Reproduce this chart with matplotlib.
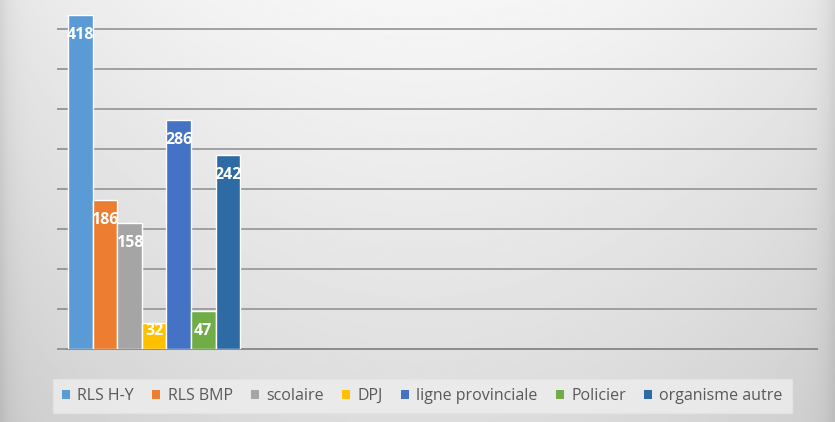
import numpy as np
import matplotlib
matplotlib.use("Agg")
import matplotlib.pyplot as plt
from matplotlib.patches import Patch

categories = ["RLS H-Y", "RLS BMP", "scolaire", "DPJ", "ligne provinciale", "Policier", "organisme autre"]
values = [418, 186, 158, 32, 286, 47, 242]
colors = ["#5B9BD5", "#ED7D31", "#A5A5A5", "#FFC000", "#4472C4", "#70AD47", "#2E6AA3"]
yticks = [0, 50, 100, 150, 200, 250, 300, 350, 400]

W, H = 835, 422
fig = plt.figure(figsize=(W / 100, H / 100), dpi=100)

# background gradient
bg = fig.add_axes([0, 0, 1, 1])
xx, yy = np.meshgrid(np.linspace(0, 1, 400), np.linspace(0, 1, 200))
val = 0.965 - 0.10 * yy - 0.06 * (np.abs(xx - 0.5) * 2) ** 2
val -= 0.07 * np.exp(-xx / 0.012) + 0.07 * np.exp(-(1 - xx) / 0.012)
bg.imshow(val, cmap="gray", vmin=0, vmax=1, aspect="auto", extent=[0, 1, 1, 0], interpolation="bilinear")
bg.set_axis_off()

left, right, base = 67, 817, 349
px_per_unit = 0.80
top_val = base / px_per_unit
ax = fig.add_axes([left / W, (H - base) / H, (right - left) / W, base / H])
ax.set_facecolor("none")

bw = 24.6
x = np.arange(len(values))
ax.bar(x, values, width=1.0, color=colors, edgecolor="white", linewidth=1.0, zorder=3)
xl = -0.5 - 1 / bw
ax.set_xlim(xl, xl + (right - left) / bw)
ax.set_ylim(0, top_val)
ax.set_yticks(yticks)
ax.set_yticklabels([])
ax.tick_params(axis="y", length=7, color="#8c8c8c", width=1.2)
ax.set_xticks([])
ax.grid(axis="y", color="#9a9a9a", linewidth=1.3, zorder=0)
for s in ["top", "right", "left"]:
    ax.spines[s].set_visible(False)
ax.spines["bottom"].set_color("#8c8c8c")
ax.spines["bottom"].set_linewidth(1.4)

for xi, v in zip(x, values):
    bar_px = v * px_per_unit
    off = 20 if bar_px > 35 else 8
    ax.annotate(str(v), (xi, v), xytext=(0, -off), textcoords="offset pixels",
                ha="center", va="center", color="white", fontsize=11.5, fontweight="bold",
                family="Open Sans", zorder=5)

handles = [Patch(facecolor=c, edgecolor="none") for c in colors]
leg = fig.legend(handles, categories, loc="center", bbox_to_anchor=(422.5 / W, (H - 396) / H),
                 ncol=7, frameon=True, handlelength=0.5, handleheight=0.5,
                 handletextpad=0.45, columnspacing=1.15, borderpad=0.55,
                 prop={"family": "Open Sans", "size": 11.5})
leg.get_frame().set_facecolor("#eeeeee")
leg.get_frame().set_edgecolor("#e4e4e4")
leg.get_frame().set_alpha(0.8)
leg.get_frame().set_boxstyle("square", pad=0)
for t in leg.get_texts():
    t.set_color("#595959")

fig.savefig("out.png", dpi=100)
